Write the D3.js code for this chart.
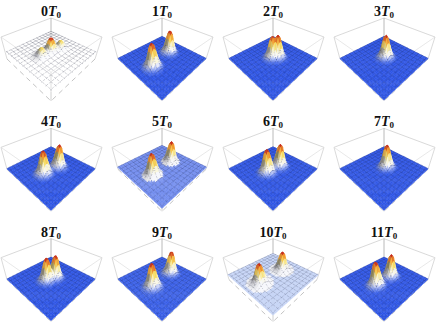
<!DOCTYPE html>
<html lang="en">
<head>
<meta charset="UTF-8">
<title>Revival of two peaks</title>
<script src="https://d3js.org/d3.v7.min.js"></script>
<style>
  body { margin: 0; background: #fff; }
  svg { display: block; }
</style>
</head>
<body>
<svg width="436" height="326"></svg>
<script>
// period number shown over each panel
const periods = [0, 1, 2, 3, 4, 5, 6, 7, 8, 9, 10, 11];
// peak positions on the floor (u, v) and height
const peakU = [[.47,.47,.53],[.535,.47],[.53,.48],[.50],[.51,.55],[.535,.50],[.50,.53],[.50],[.48,.52],[.53,.49],[.50,.50],[.52,.53]];
const peakV = [[.66,.47,.32],[.725,.30],[.43,.49],[.46],[.66,.38],[.725,.30],[.62,.38],[.44],[.57,.43],[.72,.29],[.76,.30],[.68,.38]];
const peakH = [[.62,1,.62],[1,1],[1,.96],[1],[1,1],[1,1],[1,1],[1],[1,1],[1,1],[1,1],[1,1]];
// how saturated the flat part of the surface is, how high it sits, how far white spreads round a peak
const planeTint = [0, 1, 1, 1, 1, .68, 1, 1, 1, .95, .14, 1];
const planeZ = [.3, .03, .03, .03, .03, .1, .03, .03, .03, .03, .22, .03];
const peakTop = [.9, 1.05, 1.05, 1.05, 1.05, 1.05, 1.05, 1.05, 1.05, 1.05, 1.05, 1.05];
const skirt = [0, 0, 0, 0, 0, .15, 0, 0, 0, 0, .2, 0];
// radial cross-section of one peak
const profileR = [0, .02, .035, .06, .085, .11, .15, .19];
const profileH = [1, .95, .85, .56, .3, .14, .03, 0];

const svg = d3.select("svg");
const N = 40, meshEvery = 3;
const col = d3.scaleBand().domain([0, 1, 2, 3]).range([-4.5, 439.5]);
const row = d3.scaleBand().domain([0, 1, 2]).range([0, 331]);
const profile = d3.scaleLinear().domain(profileR).range(profileH).clamp(true);
const colour = d3.scaleLinear()
  .domain([.2, .4, .58, .8, .97])
  .range(["#f6f7fb", "#fbf6d2", "#f6dc60", "#f2982e", "#c62a1e"])
  .clamp(true);
const cellScale = d3.scaleLinear().domain([0, N]).range([0, 1]);

// square to quad map, corners are back, right, front, left
function quad(p) {
  const [p0, p1, p2, p3] = p;
  const sx = p0[0]-p1[0]+p2[0]-p3[0], sy = p0[1]-p1[1]+p2[1]-p3[1];
  const dx1 = p1[0]-p2[0], dx2 = p3[0]-p2[0], dy1 = p1[1]-p2[1], dy2 = p3[1]-p2[1];
  const den = dx1*dy2 - dx2*dy1;
  const g = (sx*dy2 - dx2*sy)/den, h = (dx1*sy - sx*dy1)/den;
  const a = p1[0]-p0[0]+g*p1[0], b = p3[0]-p0[0]+h*p3[0];
  const d = p1[1]-p0[1]+g*p1[1], e = p3[1]-p0[1]+h*p3[1];
  return (u, v) => {
    const w = 1 + g*u + h*v;
    return [(a*u + b*v + p0[0])/w, (d*u + e*v + p0[1])/w];
  };
}
const floorCorners = [[0, 37], [44, 59], [0, 101], [-44, 59]];
const topCorners = [[0, 18], [51, 37], [0, 72], [-50, 37]];
const floor = quad(floorCorners), ceil = quad(topCorners);
const project = (u, v, z) => d3.interpolateArray(floor(u, v), ceil(u, v))(z);
const line = d3.line();

periods.forEach((period, idx) => {
  const g = svg.append("g").attr("transform",
    `translate(${col(idx % 4) + col.bandwidth()/2},${row(Math.floor(idx/4))})`);
  const title = g.append("text").attr("y", 16).attr("text-anchor", "middle")
    .attr("font-family", "Liberation Serif").attr("font-weight", "bold")
    .attr("font-size", 14).attr("fill", "#111");
  title.append("tspan").text(period);
  title.append("tspan").attr("font-style", "italic").text("T");
  title.append("tspan").attr("font-size", 9).attr("dy", 2).text("0");

  // far box edges
  const boxLine = (a, b, stroke, dash) => g.append("path")
    .attr("d", line([a, b])).attr("fill", "none").attr("stroke", stroke)
    .attr("stroke-width", .8).attr("stroke-dasharray", dash || null);
  boxLine(topCorners[3], topCorners[0], "#cfcfcf");
  boxLine(topCorners[0], topCorners[1], "#cfcfcf");
  boxLine(topCorners[3], topCorners[2], "#e2e2e2");
  boxLine(topCorners[1], topCorners[2], "#e2e2e2");
  boxLine(topCorners[0], floorCorners[0], "#a8a8a8");
  boxLine(topCorners[3], floorCorners[3], "#d0d0d0");
  boxLine(topCorners[1], floorCorners[1], "#d0d0d0");
  boxLine(floorCorners[3], floorCorners[2], "#b4b4b4", "5 4");
  boxLine(floorCorners[1], floorCorners[2], "#b4b4b4", "5 4");
  boxLine(topCorners[2], floorCorners[2], "#c4c4c4");

  const tint = planeTint[idx], base = planeZ[idx];
  const us = peakU[idx], vs = peakV[idx], hs = peakH[idx];
  const height = (u, v) => d3.max(us, (pu, k) =>
    hs[k] * profile(Math.hypot(u - pu, v - vs[k])));
  const flat = d3.interpolateRgb(tint === 0 || tint > .5 ? "#ffffff" : "#dfe9f8", "#2d55e6")(tint);
  const surfaceZ = d3.scaleLinear().domain([0, 1]).range([base, peakTop[idx]]);
  const low = d3.scaleLinear().domain([0, .2]).range([flat, "#f6f7fb"])
    .interpolate(d3.interpolateRgb).clamp(true);

  const cells = d3.cross(d3.range(N), d3.range(N))
    .sort((a, b) => (a[0] + a[1]) - (b[0] + b[1]));
  cells.forEach(([i, j]) => {
    const u0 = cellScale(i), u1 = cellScale(i + 1), v0 = cellScale(j), v1 = cellScale(j + 1);
    const corner = (u, v) => project(u, v, surfaceZ(height(u, v)));
    const pts = [corner(u0, v0), corner(u1, v0), corner(u1, v1), corner(u0, v1)];
    const um = (u0 + u1)/2, vm = (v0 + v1)/2, e = .02;
    const h = height(um, vm);
    const slope = height(um + e, vm - e) - height(um - e, vm + e);
    const nearPeak = d3.min(us, (pu, k) => Math.hypot(um - pu, vm - vs[k])) < skirt[idx];
    let fill = h >= .2 ? colour(h) : (nearPeak ? "#f6f7fb" : low(h));
    const shade = Math.max(0, Math.min(1, slope * 3)) * (h < .6 ? 1 : .25);
    fill = d3.interpolateRgb(fill, "#3c3c46")(shade * .6);
    const isFlat = h < .01 && !nearPeak;
    g.append("path").attr("d", line(pts) + "Z")
      .attr("fill", fill).attr("stroke", fill).attr("stroke-width", .35)
      .attr("fill-opacity", isFlat && tint === 0 ? .4 : 1)
      .attr("stroke-opacity", isFlat && tint === 0 ? 0 : 1);
    if (h < .3) {
      const meshStyle = path => path.attr("fill", "none").attr("stroke", "#10142e")
        .attr("stroke-width", .6).attr("stroke-opacity", tint === 0 ? .6 : .48)
        .attr("stroke-dasharray", tint === 0 ? "0.7 2.2" : "0.8 1.6");
      if (i % meshEvery === 0) meshStyle(g.append("path").attr("d", line([pts[0], pts[3]])));
      if (j % meshEvery === 0) meshStyle(g.append("path").attr("d", line([pts[0], pts[1]])));
    }
  });
});
</script>
</body>
</html>
